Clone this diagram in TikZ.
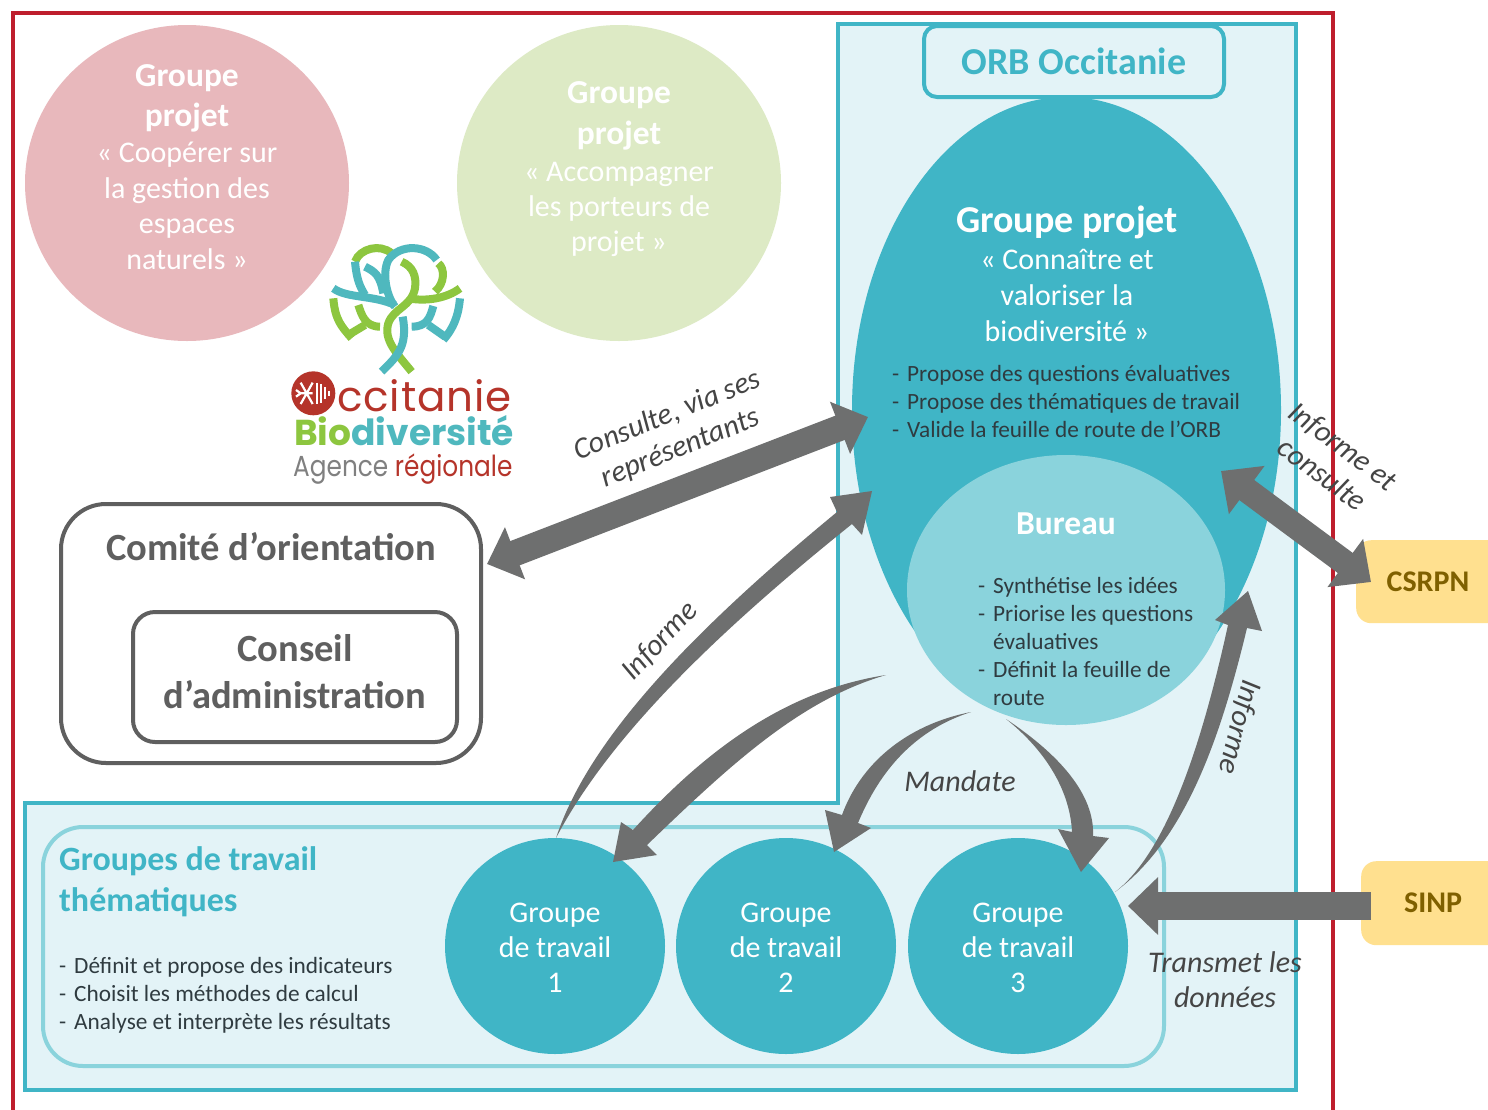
\documentclass[tikz,border=0pt]{standalone}
\usepackage{fontspec}
\setmainfont{Carlito}
\newfontfamily\logofont{Poppins}
\usetikzlibrary{shapes.geometric,arrows.meta}
\definecolor{teal}{HTML}{40B5C6}
\definecolor{paleteal}{HTML}{E3F3F7}
\definecolor{midteal}{HTML}{8AD3DC}
\definecolor{redline}{HTML}{BE1E2D}
\definecolor{pinkc}{HTML}{E8B8BC}
\definecolor{greenc}{HTML}{DDEAC5}
\definecolor{grayarrow}{HTML}{6E6F6F}
\definecolor{boxgray}{HTML}{5F5F5F}
\definecolor{yellowbox}{HTML}{FFE08F}
\definecolor{yellowtext}{HTML}{7F6000}
\definecolor{labelgray}{HTML}{454545}
\definecolor{listdark}{HTML}{2F3B40}
\definecolor{logored}{HTML}{B5342A}
\definecolor{logogreen}{HTML}{8DC63F}
\definecolor{logoteal}{HTML}{4FB8BE}
\newcommand{\fs}[1]{\fontsize{#1}{#1}\selectfont}
\newcommand{\fsl}[2]{\fontsize{#1}{#2}\selectfont}
\newcommand{\li}[1]{\makebox[15pt][l]{-}#1}
\newcommand{\tb}{\fontsize{33.5}{35}\selectfont\bfseries}
\tikzset{
  disc/.style={ellipse,draw=none,inner sep=0pt,minimum width=#1},
  whitetxt/.style={text=white,align=center,inner sep=0pt},
  flab/.style={text=labelgray,align=center,inner sep=0pt,font=\fsl{30}{35}\itshape},
  listtxt/.style={text=listdark,align=left,inner sep=0pt,anchor=west},
  dbl/.style={draw=grayarrow,line width=#1},
  taper/.style={fill=grayarrow,draw=none},
  ybox/.style={rectangle,rounded corners=15pt,fill=yellowbox,draw=none,inner sep=0pt,anchor=north west},
  ytxt/.style={text=yellowtext,font=\fs{30}\bfseries,inner sep=0pt},
  gtxt/.style={whitetxt,font=\fsl{30}{35}},
}
\begin{document}
\begin{tikzpicture}[x=1pt,y=-1pt]
\useasboundingbox (0,0) rectangle (1488,1109);
\clip (0,0) rectangle (1488,1109);
\fill[white] (0,0) rectangle (1488,1109);
% frames
\draw[redline,line width=4pt] (13,1130) -- (13,13) -- (1333,13) -- (1333,1130);
\draw[teal,line width=4pt,fill=paleteal] (838,24) -- (1296,24) -- (1296,1090) -- (25,1090) -- (25,803) -- (838,803) -- cycle;
\node[rectangle,rounded corners=40pt,draw=midteal,line width=4pt,minimum width=1121pt,minimum height=239pt] (gtbox) at (603.5,946.5) {};
% top circles
\node[disc=324pt,minimum height=316pt,fill=pinkc] (pink) at (187,183) {};
\node[disc=324pt,minimum height=316pt,fill=greenc] (green) at (619,183) {};
\node[whitetxt,font=\fsl{30}{35.5}] (pinktxt) at (187,167) {\tb Groupe\\[5pt]\tb projet\\[0.5pt]« Coopérer sur\\la gestion des\\espaces\\naturels »};
\node[whitetxt,font=\fsl{30}{35}] (greentxt) at (619,169) {\tb Groupe\\[6pt]\tb projet\\[2pt]« Accompagner\\les porteurs de\\projet »};
% ORB
\node[rectangle,rounded corners=13pt,draw=teal,line width=4pt,fill=paleteal,text=teal,font=\fs{38}\bfseries,minimum width=300pt,minimum height=71pt] (orb) at (1074,61.5) {ORB Occitanie};
\node[disc=429pt,minimum height=626pt,fill=teal] (gp) at (1066.5,410) {};
\node[disc=318pt,minimum height=270pt,fill=midteal] (bureau) at (1066,590) {};
\node[whitetxt,font=\fsl{30}{36}] (gptitle) at (1067,273.5) {\fontsize{38}{36}\selectfont\bfseries Groupe projet\\[1pt]« Connaître et\\valoriser la\\biodiversité »};
\node[listtxt,font=\fsl{23.3}{28}] (gplist) at (892,401) {\li{Propose des questions évaluatives}\\\li{Propose des thématiques de travail}\\\li{Valide la feuille de route de l’ORB}};
\node[whitetxt,font=\fs{33.5}\bfseries] (burtitle) at (1066,524) {Bureau};
\node[listtxt,font=\fsl{23.3}{28}] (burlist) at (978,641) {\li{Synthétise les idées}\\\li{Priorise les questions}\\\hspace*{15pt}évaluatives\\\li{Définit la feuille de}\\\hspace*{15pt}route};
% comité
\node[rectangle,rounded corners=45pt,draw=boxgray,line width=4pt,fill=white,minimum width=420pt,minimum height=259pt] (comite) at (271,633.5) {};
\node[text=boxgray,font=\fs{38.5}\bfseries,inner sep=0pt] (comtxt) at (271,547) {Comité d’orientation};
\node[rectangle,rounded corners=22pt,draw=boxgray,line width=4pt,fill=white,minimum width=324pt,minimum height=130pt] (ca) at (295,677) {};
\node[text=boxgray,font=\fsl{38.5}{47}\bfseries,align=center,inner sep=0pt] (catxt) at (295,672) {Conseil\\d’administration};
% groupes
\node[text=teal,font=\fsl{34}{41}\bfseries,align=left,anchor=west,inner sep=0pt] (gttitle) at (59,882) {Groupes de travail\\thématiques};
\node[listtxt,font=\fsl{23.3}{28}] (gtlist) at (59,995) {\li{Définit et propose des indicateurs}\\\li{Choisit les méthodes de calcul}\\\li{Analyse et interprète les résultats}};
\node[disc=220pt,minimum height=216pt,fill=teal] (g1) at (555,946) {};
\node[disc=220pt,minimum height=216pt,fill=teal] (g2) at (786,946) {};
\node[disc=220pt,minimum height=216pt,fill=teal] (g3) at (1018,946) {};
\node[gtxt] (g1t) at (555,948) {Groupe\\de travail\\1};
\node[gtxt] (g2t) at (786,948) {Groupe\\de travail\\2};
\node[gtxt] (g3t) at (1018,948) {Groupe\\de travail\\3};
% outside boxes
\node[ybox,minimum width=170pt,minimum height=83pt] (csrpn) at (1356,540) {};
\node[ybox,minimum width=170pt,minimum height=84pt] (sinp) at (1361,861) {};
\node[ytxt] (csrpnt) at (1428,582) {CSRPN};
\node[ytxt] (sinpt) at (1433,903) {SINP};
% connector end points
\coordinate (a1) at (487,564); \coordinate (a2) at (868,417);
\coordinate (b1) at (1371,582); \coordinate (b2) at (1221,471);
\coordinate (c1) at (1371,906); \coordinate (c2) at (1128,906);
% straight double arrows
\draw[dbl=26pt,{Triangle[length=30pt,width=54pt]}-{Triangle[length=30pt,width=54pt]}] (a1) -- (a2);
\draw[dbl=25pt,{Triangle[length=32pt,width=58pt]}-{Triangle[length=32pt,width=58pt]}] (b1) -- (b2);
\draw[dbl=28pt,-{Triangle[length=30pt,width=56pt]}] (c1) -- (c2);
% tapered curved arrows
\coordinate (s1) at (556,838); \coordinate (t1) at (872,491);
\fill[taper] (s1) .. controls (590,735) and (700,625) .. (837,512) -- (830,497) -- (t1) -- (862,535) -- (852,524) .. controls (720,630) and (610,735) .. (s1) -- cycle;
\coordinate (s2) at (886,675); \coordinate (t2) at (613,862);
\fill[taper] (s2) .. controls (790,690) and (710,745) .. (633,830) -- (621,822) -- (t2) -- (657,855) -- (647,845) .. controls (730,765) and (800,700) .. (s2) -- cycle;
\coordinate (s3) at (971,712); \coordinate (t3) at (834,852);
\fill[taper] (s3) .. controls (905,725) and (860,765) .. (842,815) -- (825,810) -- (t3) -- (871,828) -- (858,823) .. controls (880,770) and (915,730) .. (s3) -- cycle;
\coordinate (s4) at (1006,719); \coordinate (t4) at (1081,872);
\fill[taper] (s4) .. controls (1060,755) and (1095,795) .. (1093,836) -- (1109,838) -- (t4) -- (1058,829) -- (1072,832) .. controls (1070,790) and (1045,750) .. (s4) -- cycle;
\coordinate (s5) at (1115,892); \coordinate (t5) at (1248,591);
\fill[taper] (s5) .. controls (1170,850) and (1205,730) .. (1228,625) -- (1215,620) -- (t5) -- (1262,631) -- (1247,628) .. controls (1220,740) and (1185,840) .. (s5) -- cycle;
% labels
\node[flab,rotate=22] (l1) at (674,432) {Consulte, via ses\\représentants};
\node[flab,rotate=47] (l2) at (660,641) {Informe};
\node[flab,rotate=-37] (l3) at (1333,460) {Informe et\\consulte};
\node[flab] (l4) at (960,781) {Mandate};
\node[flab,rotate=-105] (l5) at (1239,727) {Informe};
\node[flab] (l6) at (1225,980) {Transmet les\\données};
% logo
\begin{scope}[shift={(280,230)},x=0.3333pt,y=-0.3333pt,line width=8pt]
  \draw[logogreen] (395,425) .. controls (350,370) and (310,330) .. (325,280) .. controls (340,235) and (395,230) .. (405,175) .. controls (410,140) and (400,110) .. (365,95);
  \draw[logogreen] (385,205) .. controls (440,215) and (500,205) .. (540,175);
  \draw[logogreen] (465,185) .. controls (495,160) and (495,115) .. (475,100);
  \draw[logogreen] (225,95) .. controls (240,55) and (300,40) .. (335,70);
  \draw[logogreen] (160,205) .. controls (165,270) and (185,290) .. (215,325);
  \draw[logogreen] (235,225) .. controls (245,255) and (255,290) .. (300,290);
  \draw[logogreen] (255,285) -- (205,315);
  \draw[logoteal] (305,425) .. controls (350,380) and (385,350) .. (368,260);
  \draw[logoteal] (345,230) .. controls (320,200) and (305,130) .. (325,90) .. controls (360,40) and (440,45) .. (470,90);
  \draw[logoteal] (160,175) .. controls (200,205) and (280,195) .. (345,225);
  \draw[logoteal] (225,95) .. controls (230,150) and (240,170) .. (255,195);
  \draw[logoteal] (255,110) .. controls (285,125) and (300,135) .. (310,190);
  \draw[logoteal] (540,205) .. controls (535,260) and (520,295) .. (490,330);
  \draw[logoteal] (460,228) .. controls (450,265) and (440,290) .. (395,290);
  \draw[logoteal] (445,285) -- (495,320);
  \fill[logored] (100,490) circle[radius=66];
  \draw[white,line width=2.2pt] (112,458) -- (112,522) (124,462) -- (124,518) (136,472) -- (136,508) (148,482) -- (148,498);
  \draw[white,line width=2.2pt] (62,490) -- (98,490) (80,490) -- (62,458) (80,490) -- (62,522) (80,490) -- (98,458) (80,490) -- (98,522) (62,490) -- (48,480) (62,490) -- (48,500);
\end{scope}
\node[inner sep=0pt,anchor=base west,text=logored] (lg1) at (337,411) {\logofont\fs{42}\addfontfeature{LetterSpace=2}ccitanie};
\node[inner sep=0pt,anchor=base west] (lg2) at (294,445) {\logofont\fs{36}\textcolor{logogreen}{\bfseries Bio}\textcolor{logoteal}{\bfseries diversité}};
\node[inner sep=0pt,anchor=base west] (lg3) at (293,476) {\scalebox{0.855}[1]{\logofont\fs{29}\textcolor{gray}{Agence} \textcolor{logored}{régionale}}};
\end{tikzpicture}
\end{document}
